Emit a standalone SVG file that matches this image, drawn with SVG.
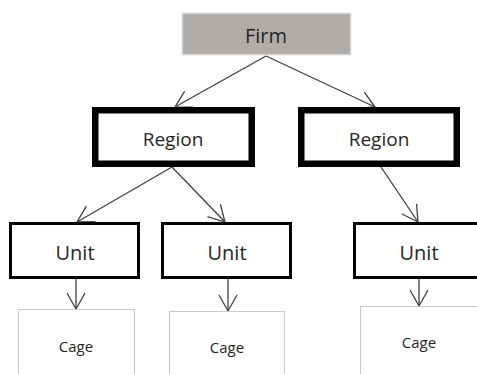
<svg xmlns="http://www.w3.org/2000/svg" width="477" height="374" viewBox="0 0 477 374">
<style>
text{font-family:"Open Sans","Noto Sans","Liberation Sans",sans-serif;fill:#262626;text-anchor:middle}
.region{fill:#fff;stroke:#000;stroke-width:6.5}
.unit{fill:#fff;stroke:#000;stroke-width:3}
.cage{fill:#fff;stroke:#c8c8c8;stroke-width:1}
.conn{stroke:#404040;stroke-width:1.3;fill:none;marker-end:url(#arr)}
</style>
<defs>
<marker id="arr" markerUnits="userSpaceOnUse" markerWidth="20" markerHeight="22" refX="17" refY="10" orient="auto" viewBox="0 0 20 20">
<path d="M1,1 L17,10 L1,19" fill="none" stroke="#404040" stroke-width="1.3"/>
</marker>
</defs>
<rect width="477" height="374" fill="#fff"/>
<g id="connectors">
<line class="conn" x1="266" y1="56" x2="175" y2="107"/>
<line class="conn" x1="266" y1="56" x2="375" y2="107"/>
<line class="conn" x1="172" y1="167" x2="77" y2="222"/>
<line class="conn" x1="172" y1="167" x2="225" y2="222"/>
<line class="conn" x1="381" y1="167" x2="418" y2="222"/>
<line class="conn" x1="76" y1="279" x2="76" y2="309"/>
<line class="conn" x1="228" y1="279" x2="228" y2="311"/>
<line class="conn" x1="419" y1="279" x2="419" y2="306"/>
</g>
<g id="firm">
<rect x="182.5" y="13.5" width="168" height="41" fill="#b0acaa" stroke="#cfcfcf" stroke-width="1.5"/>
<text x="266" y="43" font-size="20">Firm</text>
</g>
<g id="region1">
<rect class="region" x="95.25" y="110.25" width="156.5" height="53.5"/>
<text x="173" y="146" font-size="19">Region</text>
</g>
<g id="region2">
<rect class="region" x="301.25" y="110.25" width="155.5" height="53.5"/>
<text x="379" y="146" font-size="19">Region</text>
</g>
<g id="unit1">
<rect class="unit" x="10.5" y="223.5" width="128" height="54"/>
<text x="75" y="260" font-size="20">Unit</text>
</g>
<g id="unit2">
<rect class="unit" x="162.5" y="223.5" width="128" height="54"/>
<text x="227" y="260" font-size="20">Unit</text>
</g>
<g id="unit3">
<rect class="unit" x="354.5" y="223.5" width="140" height="54"/>
<text x="419" y="260" font-size="20">Unit</text>
</g>
<g id="cage1">
<rect class="cage" x="18.5" y="309.5" width="116" height="80"/>
<text x="76" y="352" font-size="15">Cage</text>
</g>
<g id="cage2">
<rect class="cage" x="169.5" y="311.5" width="115" height="80"/>
<text x="227" y="353" font-size="15">Cage</text>
</g>
<g id="cage3">
<rect class="cage" x="360.5" y="306.5" width="130" height="80"/>
<text x="419" y="348" font-size="15">Cage</text>
</g>
</svg>
